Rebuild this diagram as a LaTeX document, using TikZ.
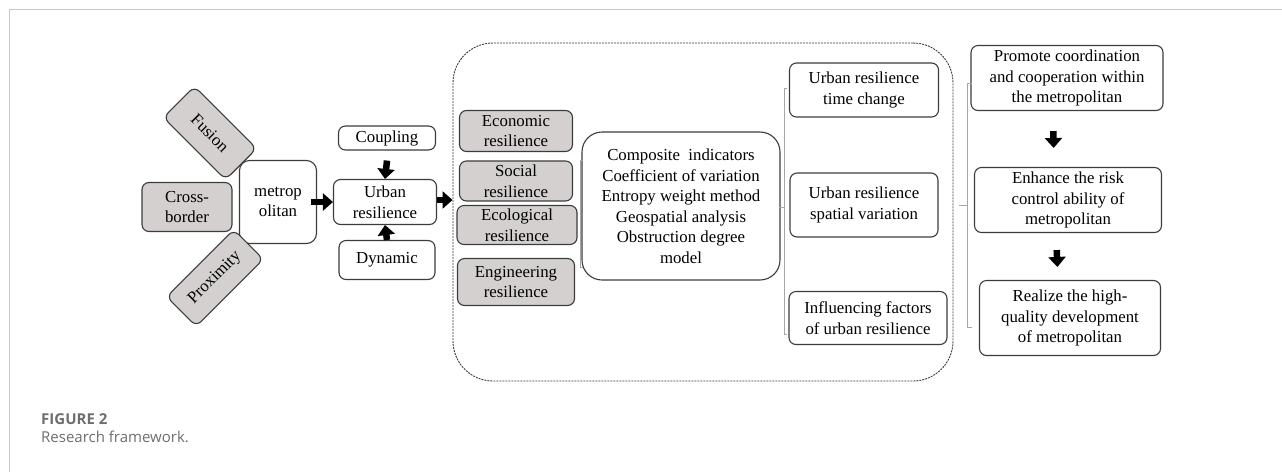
\documentclass[tikz,border=0pt]{standalone}
\usepackage{fontspec}
\setmainfont{Liberation Serif}
\newfontfamily\capfont{Open Sans}
\usepackage{tikz}
\usetikzlibrary{arrows.meta}

\definecolor{boxgray}{RGB}{212,208,208}
\definecolor{linegray}{RGB}{60,60,60}
\definecolor{captiongray}{RGB}{110,110,110}
\definecolor{framegray}{RGB}{200,200,200}

\tikzset{
	box/.style = {draw = linegray, fill = white, line width = 1.1pt, rounded corners = 7pt, align = center, inner sep = 0pt, font = \fontsize{16.8}{20.5}\selectfont},
	shaded/.style = {box, fill = boxgray},
	fatarrow/.style = {-{Triangle[length = 10pt, width = 17pt]}, line width = 6.5pt},
	brk/.style = {draw = gray!70, line width = 0.8pt},
	caption/.style = {anchor = west, text = captiongray, inner sep = 0pt}
}

\begin{document}
\begin{tikzpicture}[x = 1pt, y = -1pt]
							\useasboundingbox (0,0) rectangle (1282,472);
							\draw [framegray, line width = 1.2pt] (9.5,472) -- (9.5,9.5) -- (1282,9.5);
				
							\node [box, rounded corners = 10pt, minimum width = 77, minimum height = 83] (metro) at (278,202) {metrop\\olitan};
							\node [shaded, rotate = -45, minimum width = 88, minimum height = 44] (fusion) at (210,133) {Fusion};
							\node [shaded, minimum width = 90, minimum height = 49] (cross) at (187,207) {Cross-\\border};
							\node [shaded, rotate = 45, minimum width = 95, minimum height = 42] (proximity) at (215,278) {Proximity};
				
							\node [box, minimum width = 103, minimum height = 45] (urban) at (385,202) {Urban\\resilience};
							\node [box, minimum width = 97, minimum height = 24] (coupling) at (387,138) {Coupling};
							\node [box, minimum width = 96, minimum height = 39] (dynamic) at (387,260) {Dynamic};
				
							\node [draw = linegray, dash pattern = on 2pt off 1pt, line width = 0.9pt, rounded corners = 40pt, minimum width = 500, minimum height = 338, inner sep = 0pt] (frame) at (703,212) {};
				
							\node [shaded, minimum width = 113, minimum height = 41] (economic) at (516,131) {Economic\\resilience};
							\node [shaded, minimum width = 113, minimum height = 40] (social) at (516,181) {Social\\resilience};
							\node [shaded, minimum width = 120, minimum height = 39] (ecological) at (517,225) {Ecological\\resilience};
							\node [shaded, minimum width = 117, minimum height = 47] (engineering) at (516,282) {Engineering\\resilience};
				
							\node [box, rounded corners = 20pt, minimum width = 198, minimum height = 148] (method) at (681,206) {Composite\ \ indicators\\Coefficient of variation\\Entropy weight method\\Geospatial analysis\\Obstruction degree\\model};
				
							\node [box, minimum width = 149, minimum height = 54] (timechange) at (864,90) {Urban resilience\\time change};
							\node [box, minimum width = 148, minimum height = 64] (spatial) at (864,205) {Urban resilience\\spatial variation};
							\node [box, minimum width = 158, minimum height = 53] (factors) at (868,318) {Influencing factors\\of urban resilience};
				
							\node [box, minimum width = 192, minimum height = 65] (promote) at (1067,78) {Promote coordination\\and cooperation within\\the metropolitan};
							\node [box, minimum width = 187, minimum height = 65] (enhance) at (1068,200) {Enhance the risk\\control ability of\\metropolitan};
							\node [box, minimum width = 181, minimum height = 75] (realize) at (1070,318) {Realize the high-\\quality development\\of metropolitan};
				
							\begin{scope}[fatarrow]
								\draw ([xshift = -6]metro.east) -- (urban.west);
								\draw ([yshift = -10]coupling.south) -- (urban.north);
								\draw (dynamic.north) -- (urban.south);
								\draw ([yshift = 2]urban.east) -- ([yshift = 2]urban.east -| frame.west);
								\draw [shorten <= 20pt, shorten >= 19pt] ([xshift = -14]promote.south) -- ([xshift = -14]enhance.north);
								\draw [shorten <= 17pt, shorten >= 13pt] ([xshift = -12]enhance.south) -- ([xshift = -12]realize.north);
							\end{scope}
				
							\draw [brk] (583,160) -- (580,160) -- (580,267) -- (583,267);
							\draw [brk] (787,88) -- (784,88) -- (784,334) -- (787,334) (784,207) -- (779,207);
							\draw [brk] (972,83) -- (967,83) -- (967,327) -- (972,327) (967,205) -- (959,205);
				
							\node [caption, font = \capfont\bfseries\fontsize{15}{18}\selectfont] (figlabel) at (41,419) {FIGURE 2};
							\node [caption, font = \capfont\fontsize{15}{18}\selectfont] (figtitle) at (41,437) {Research framework.};
						\end{tikzpicture}
\end{document}
